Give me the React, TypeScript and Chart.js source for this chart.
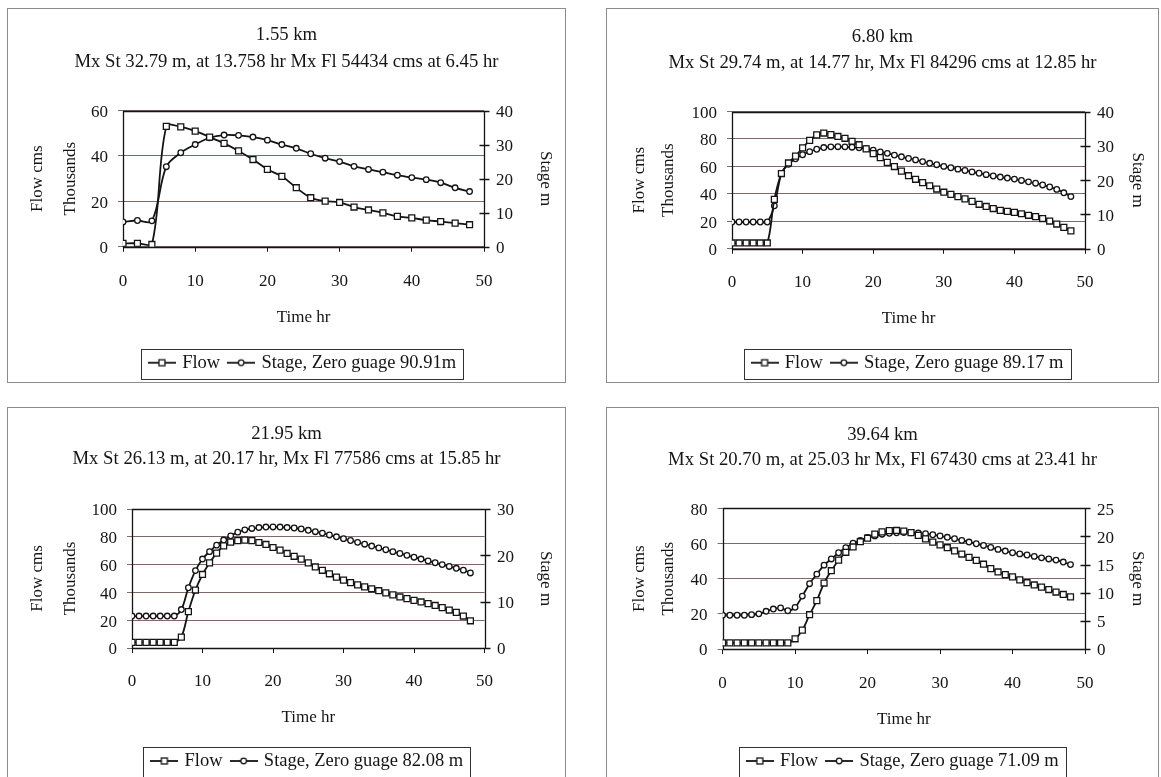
import React, { useEffect, useRef } from "react";
import { Chart, registerables } from "chart.js";
Chart.register(...registerables);

const FONT = "'Liberation Serif', 'Times New Roman', serif";
const INK = "#141414";
const GRID = "rgb(128,104,104)";
const FS = 17; // ticks and axis titles
const TFS = 18.7; // chart titles
const LFS = 18.5; // legend
const TEXT_DY = 2; // visual centre of glyphs sits above the em-box middle

// ---------- data ----------
const time2h = [0, 2, 4, 6, 8, 10, 12, 14, 16, 18, 20, 22, 24, 26, 28, 30, 32, 34, 36, 38, 40, 42, 44, 46, 48];
const time1h = [0, 1, 2, 3, 4, 5, 6, 7, 8, 9, 10, 11, 12, 13, 14, 15, 16, 17, 18, 19, 20, 21, 22, 23, 24, 25, 26, 27, 28, 29, 30, 31, 32, 33, 34, 35, 36, 37, 38, 39, 40, 41, 42, 43, 44, 45, 46, 47, 48];

// 1.55 km (flow in thousands cms, stage in m)
const flow155 = [1.5, 1.5, 1.0, 53.0, 52.8, 50.9, 48.3, 45.5, 42.2, 38.4, 34.1, 31.0, 26.0, 21.6, 20.1, 19.5, 17.5, 16.2, 14.9, 13.4, 12.7, 11.7, 11.1, 10.4, 9.7];
const stage155 = [7.3, 7.7, 7.6, 23.5, 27.6, 30.0, 32.0, 32.8, 32.7, 32.2, 31.3, 30.0, 28.9, 27.3, 26.0, 25.0, 23.6, 22.7, 21.9, 21.0, 20.3, 19.7, 18.8, 17.3, 16.2];

// 6.80 km
const flow680 = [4.2, 4.2, 4.2, 4.2, 4.2, 4.2, 36.0, 54.8, 62.5, 67.5, 73.5, 79.0, 83.0, 84.3, 83.2, 81.8, 80.5, 78.3, 75.8, 72.8, 69.3, 66.4, 62.9, 59.9, 56.6, 53.2, 50.6, 48.2, 45.9, 43.5, 41.2, 39.6, 38.0, 36.3, 34.5, 32.4, 30.8, 29.3, 28.0, 27.2, 26.5, 25.5, 24.4, 23.4, 22.0, 20.2, 18.0, 15.6, 13.0];
const stage680 = [7.8, 7.8, 7.8, 7.8, 7.8, 7.8, 12.5, 21.9, 24.6, 26.2, 27.4, 28.3, 29.0, 29.5, 29.7, 29.74, 29.7, 29.6, 29.4, 29.2, 28.7, 28.2, 27.8, 27.3, 26.8, 26.3, 25.9, 25.4, 24.9, 24.5, 24.0, 23.6, 23.2, 22.8, 22.4, 22.0, 21.6, 21.2, 20.9, 20.6, 20.3, 19.9, 19.5, 19.1, 18.6, 18.0, 17.3, 16.3, 15.2];

// 21.95 km
const flow2195 = [4.0, 4.0, 4.0, 4.0, 4.0, 4.0, 4.0, 7.8, 26.2, 41.7, 52.9, 61.2, 68.3, 73.5, 76.2, 77.2, 77.6, 77.2, 75.9, 74.5, 72.3, 70.4, 68.0, 66.0, 63.9, 61.2, 58.3, 55.9, 53.4, 51.0, 48.8, 47.0, 45.4, 44.0, 42.6, 41.2, 39.7, 38.2, 36.7, 35.5, 34.3, 33.1, 31.9, 30.6, 29.0, 27.3, 25.6, 23.0, 19.6];
const stage2195 = [6.9, 6.9, 6.9, 6.9, 6.9, 6.9, 6.9, 8.3, 13.0, 16.7, 19.2, 20.8, 22.2, 23.3, 24.2, 25.0, 25.5, 25.8, 26.0, 26.1, 26.13, 26.1, 26.0, 25.9, 25.7, 25.4, 25.1, 24.8, 24.4, 24.0, 23.6, 23.2, 22.8, 22.4, 22.0, 21.6, 21.2, 20.8, 20.4, 20.0, 19.6, 19.2, 18.8, 18.4, 18.0, 17.6, 17.2, 16.8, 16.2];

// 39.64 km
const flow3964 = [3.5, 3.5, 3.5, 3.5, 3.5, 3.5, 3.5, 3.5, 3.5, 3.5, 5.8, 10.7, 19.5, 27.5, 37.5, 44.5, 50.5, 55.0, 58.0, 61.0, 63.0, 65.3, 66.6, 67.3, 67.4, 67.0, 66.2, 64.6, 62.6, 60.8, 59.2, 57.6, 55.8, 54.0, 52.1, 50.4, 48.2, 45.7, 43.8, 42.3, 41.0, 39.3, 37.7, 36.4, 35.2, 33.8, 32.4, 31.0, 29.6];
const stage3964 = [6.0, 6.0, 6.0, 6.0, 6.1, 6.25, 6.7, 7.1, 7.3, 6.8, 7.4, 9.4, 11.6, 13.3, 14.9, 16.0, 17.1, 18.0, 18.8, 19.3, 19.8, 20.1, 20.4, 20.55, 20.65, 20.7, 20.65, 20.6, 20.5, 20.3, 20.1, 19.85, 19.6, 19.3, 19.0, 18.7, 18.4, 18.05, 17.7, 17.4, 17.1, 16.9, 16.7, 16.45, 16.2, 16.0, 15.8, 15.45, 15.0];

const xTicks = { min: 0, max: 50, step: 10 };

type Box = { x: number; y: number; w: number; h: number };
type Area = { l: number; r: number; t: number; b: number };
type Panel = {
  title: string[];
  legendStage: string;
  time: number[];
  flow: number[];
  stage: number[];
  flowMax: number;
  flowStep: number;
  stageMax: number;
  stageStep: number;
  box: Box;
  area: Area;
  titleY: [number, number];
  yTitleX: [number, number];
  y1TitleX: number;
  y1LabelX: number;
  xTickY: number;
  xTitleY: number;
  legendY: number;
};

const panels: Panel[] = [
  {
    title: ["1.55 km", "Mx St 32.79 m, at 13.758 hr Mx Fl 54434 cms at 6.45 hr"],
    legendStage: "Stage, Zero guage 90.91m",
    time: time2h, flow: flow155, stage: stage155,
    flowMax: 60, flowStep: 20, stageMax: 40, stageStep: 10,
    box: { x: 7, y: 8, w: 559, h: 375 },
    area: { l: 123, r: 484, t: 110.5, b: 249 },
    titleY: [33, 60], yTitleX: [38, 71], y1TitleX: 545, y1LabelX: 496,
    xTickY: 282, xTitleY: 318, legendY: 363,
  },
  {
    title: ["6.80 km", "Mx St 29.74 m, at 14.77 hr, Mx Fl 84296 cms at 12.85 hr"],
    legendStage: "Stage, Zero guage 89.17 m",
    time: time1h, flow: flow680, stage: stage680,
    flowMax: 100, flowStep: 20, stageMax: 40, stageStep: 10,
    box: { x: 606, y: 8, w: 553, h: 375 },
    area: { l: 732, r: 1085, t: 111.5, b: 252 },
    titleY: [35, 61.5], yTitleX: [640, 669], y1TitleX: 1137, y1LabelX: 1097,
    xTickY: 284, xTitleY: 320, legendY: 364,
  },
  {
    title: ["21.95 km", "Mx St 26.13 m, at 20.17 hr, Mx Fl 77586 cms at 15.85 hr"],
    legendStage: "Stage, Zero guage 82.08 m",
    time: time1h, flow: flow2195, stage: stage2195,
    flowMax: 100, flowStep: 20, stageMax: 30, stageStep: 5,
    box: { x: 7, y: 407, w: 559, h: 380 },
    area: { l: 132, r: 484.5, t: 509, b: 648 },
    titleY: [432, 457], yTitleX: [38, 71], y1TitleX: 545, y1LabelX: 497,
    xTickY: 680, xTitleY: 716, legendY: 759,
  },
  {
    title: ["39.64 km", "Mx St 20.70 m, at 25.03 hr Mx, Fl 67430 cms at 23.41 hr"],
    legendStage: "Stage, Zero guage 71.09 m",
    time: time1h, flow: flow3964, stage: stage3964,
    flowMax: 80, flowStep: 20, stageMax: 25, stageStep: 5,
    box: { x: 606, y: 407, w: 553, h: 380 },
    area: { l: 722.6, r: 1085, t: 508.3, b: 649 },
    titleY: [433, 458], yTitleX: [640, 669], y1TitleX: 1137, y1LabelX: 1097,
    xTickY: 682, xTitleY: 718, legendY: 759,
  },
];

function makeIcon(kind: "rect" | "circle") {
  const c = document.createElement("canvas");
  c.width = 28;
  c.height = 12;
  const g = c.getContext("2d")!;
  g.strokeStyle = INK;
  g.lineWidth = 1.8;
  g.beginPath();
  g.moveTo(0, 6);
  g.lineTo(28, 6);
  g.stroke();
  g.fillStyle = "#fff";
  g.lineWidth = 1.3;
  if (kind === "rect") {
    g.fillRect(11, 3, 6, 6);
    g.strokeRect(11, 3, 6, 6);
  } else {
    g.beginPath();
    g.arc(14, 6, 2.8, 0, Math.PI * 2);
    g.fill();
    g.stroke();
  }
  return c;
}

const framePlugin = {
  id: "frame",
  beforeDatasetsDraw(chart: any) {
    const { ctx, chartArea: a, scales } = chart;
    const L = Math.round(a.left) + 0.5;
    const R = Math.round(a.right) + 0.5;
    const T = Math.round(a.top) + 0.5;
    const B = Math.round(a.bottom) + 0.5;
    ctx.save();
    ctx.strokeStyle = INK;
    ctx.lineWidth = 1.3;
    ctx.beginPath();
    ctx.rect(L, T, R - L, B - T);
    const y1 = scales.y1;
    y1.ticks.forEach((t: any) => {
      const py = Math.round(y1.getPixelForValue(t.value)) + 0.5;
      ctx.moveTo(R - 5, py);
      ctx.lineTo(R + 5, py);
    });
    ctx.stroke();
    ctx.restore();
  },
};

const legendBoxPlugin = {
  id: "legendBox",
  afterDraw(chart: any) {
    const lg = chart.legend;
    if (!lg || !lg.legendHitBoxes || !lg.legendHitBoxes.length) return;
    const hb = lg.legendHitBoxes;
    const l = Math.min(...hb.map((h: any) => h.left)) - 10;
    const r = Math.max(...hb.map((h: any) => h.left + h.width)) + 7;
    const cy = hb[0].top + hb[0].height / 2 + 1;
    const ctx = chart.ctx;
    ctx.save();
    ctx.strokeStyle = "#333";
    ctx.lineWidth = 1;
    ctx.strokeRect(Math.round(l) + 0.5, Math.round(cy - 15) + 0.5, Math.round(r - l), 30);
    ctx.restore();
  },
};

function PanelChart({ p }: { p: Panel }) {
  const ref = useRef<HTMLCanvasElement>(null);
  const W = p.box.w - 2;
  const H = p.box.h - 2;
  useEffect(() => {
    const canvas = ref.current!;
    const ox = p.box.x + 1;
    const oy = p.box.y + 1;
    const A = { l: p.area.l - ox, r: p.area.r - ox, t: p.area.t - oy, b: p.area.b - oy };
    const LT = p.titleY[1] - p.titleY[0];
    const titlePadTop = p.titleY[0] + TEXT_DY - oy - LT / 2;
    const titlePadBottom = A.t - titlePadTop - 2 * LT;
    const LY = p.yTitleX[1] - p.yTitleX[0];
    const yTitlePad = p.yTitleX[0] - ox - LY / 2;
    const LS = FS * 1.2;
    const y1TitlePad = W - (p.y1TitleX - ox) - LS / 2;
    const legPad = 10;
    const legH = LFS + legPad + 10;
    const legTop = p.legendY + TEXT_DY - oy - legPad - LFS / 2;
    const xH = legTop - A.b;
    const bottomPad = Math.max(0, H - (legTop + legH));
    const xTickPad = p.xTickY + TEXT_DY - oy - A.b - 5 - LS / 2;
    const xTitlePad = legTop - (p.xTitleY + TEXT_DY - oy) - LS / 2;
    const y1TickPad = p.y1LabelX - ox - A.r;
    const font = { family: FONT, size: FS, weight: "normal" as const };
    const icons = [makeIcon("rect"), makeIcon("circle")];

    const chart = new Chart(canvas, {
      type: "line",
      data: {
        datasets: [
          {
            label: "Flow",
            data: p.time.map((t, i) => ({ x: t, y: p.flow[i] })),
            yAxisID: "y",
            borderColor: INK,
            borderWidth: 1.8,
            pointStyle: "rect",
            pointRadius: 4.2,
            pointBackgroundColor: "#fff",
            pointBorderColor: INK,
            pointBorderWidth: 1.3,
            tension: 0.35,
          },
          {
            label: p.legendStage,
            data: p.time.map((t, i) => ({ x: t, y: p.stage[i] })),
            yAxisID: "y1",
            borderColor: INK,
            borderWidth: 1.8,
            pointStyle: "circle",
            pointRadius: 2.8,
            pointBackgroundColor: "#fff",
            pointBorderColor: INK,
            pointBorderWidth: 1.3,
            tension: 0.35,
          },
        ],
      },
      options: {
        responsive: false,
        animation: false,
        events: [],
        layout: { padding: { left: 0, right: 0, top: 0, bottom: bottomPad } },
        plugins: {
          title: {
            display: true,
            text: p.title,
            color: INK,
            font: { family: FONT, size: TFS, weight: "normal", lineHeight: `${LT}px` },
            padding: { top: titlePadTop, bottom: titlePadBottom },
          },
          legend: {
            display: true,
            position: "bottom",
            fullSize: false,
            labels: {
              color: INK,
              font: { family: FONT, size: LFS, weight: "normal" },
              padding: legPad,
              usePointStyle: true,
              pointStyleWidth: 22,
              generateLabels: (ch: any) => {
                const items = (Chart.defaults.plugins.legend.labels as any).generateLabels(ch);
                items.forEach((it: any, i: number) => {
                  it.pointStyle = icons[i];
                });
                return items;
              },
            },
          },
          tooltip: { enabled: false },
        } as any,
        scales: {
          x: {
            type: "linear",
            min: xTicks.min,
            max: xTicks.max,
            ticks: { stepSize: xTicks.step, padding: xTickPad, color: INK, font, maxRotation: 0 },
            grid: { drawOnChartArea: false, tickLength: 5, color: INK, lineWidth: 1 },
            border: { display: false },
            title: { display: true, text: "Time hr", color: INK, font, padding: { top: 0, bottom: xTitlePad } },
            afterFit: (s: any) => {
              s.height = xH;
            },
          },
          y: {
            position: "left",
            min: 0,
            max: p.flowMax,
            ticks: { stepSize: p.flowStep, padding: 10, color: INK, font, labelOffset: TEXT_DY },
            grid: { color: GRID, tickLength: 5, lineWidth: 1 },
            border: { display: false },
            title: {
              display: true,
              text: ["Flow cms", "Thousands"],
              color: INK,
              font: { family: FONT, size: FS, weight: "normal", lineHeight: `${LY}px` },
              padding: { top: yTitlePad, bottom: 0 },
            },
            afterFit: (s: any) => {
              s.width = A.l;
            },
          },
          y1: {
            position: "right",
            min: 0,
            max: p.stageMax,
            ticks: { stepSize: p.stageStep, padding: y1TickPad, color: INK, font, labelOffset: TEXT_DY },
            grid: { display: false, drawTicks: false },
            border: { display: false },
            title: { display: true, text: "Stage m", color: INK, font, padding: { top: y1TitlePad, bottom: 0 } },
            afterFit: (s: any) => {
              s.width = W - A.r;
            },
          },
        },
      },
      plugins: [framePlugin, legendBoxPlugin],
    } as any);
    return () => chart.destroy();
  }, [p, W, H]);

  return (
    <div
      style={{
        position: "absolute",
        left: p.box.x,
        top: p.box.y,
        width: p.box.w,
        height: p.box.h,
        boxSizing: "border-box",
        border: "1px solid #8c8c8c",
        background: "#fff",
      }}
    >
      <canvas ref={ref} width={W} height={H} style={{ display: "block", width: W, height: H }} />
    </div>
  );
}

export default function App() {
  return (
    <div
      style={{
        position: "fixed",
        left: 0,
        top: 0,
        width: 1161,
        height: 777,
        overflow: "hidden",
        background: "#fff",
      }}
    >
      {panels.map((p, i) => (
        <PanelChart key={i} p={p} />
      ))}
    </div>
  );
}
